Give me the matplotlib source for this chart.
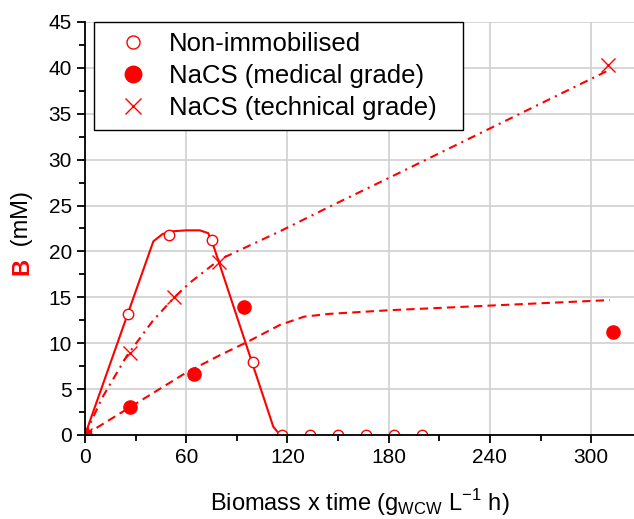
import matplotlib
matplotlib.use("Agg")
import matplotlib.pyplot as plt
from matplotlib.ticker import MultipleLocator

plt.rcParams["font.family"] = ["Liberation Sans", "DejaVu Sans"]

# measured points
free_x = [0, 25.3, 50, 75.1, 99.8, 116.6, 133.4, 150, 166.6, 183, 200]
free_y = [0, 13.2, 21.8, 21.3, 8.0, 0, 0, 0, 0, 0, 0]
med_x = [0, 26.7, 64.4, 94.4, 312.8]
med_y = [0, 3.0, 6.7, 14.0, 11.2]
tech_x = [0, 26.7, 52.9, 79.6, 309.8]
tech_y = [0, 8.9, 15.0, 18.8, 40.3]

# model curves
fit_free_x = [0, 40.5, 46, 52, 60, 68, 73, 76, 111.6, 115.6, 120]
fit_free_y = [0, 21.1, 21.9, 22.2, 22.3, 22.3, 22.0, 20.7, 0.9, 0, 0]
fit_med_x = [0, 30, 60, 80, 95.8, 115.6, 130, 145, 180.8, 240, 311]
fit_med_y = [0, 3.4, 6.8, 8.7, 10.1, 12.0, 12.9, 13.2, 13.6, 14.1, 14.7]
fit_tech_x = [0, 10, 24.7, 40, 52.9, 62.2, 79.6, 115.6, 145.2, 180, 240, 311]
fit_tech_y = [0, 4.0, 8.6, 12.4, 15.0, 16.6, 19.1, 22.2, 24.9, 28.0, 33.4, 39.8]

red = "#ff0000"

fig = plt.figure(figsize=(6.34, 5.19), dpi=100)
ax = fig.add_axes([85 / 634, 84 / 519, 549 / 634, 413 / 519])

ax.plot(fit_free_x, fit_free_y, color=red, lw=1.5)
l2, = ax.plot(fit_med_x, fit_med_y, color=red, lw=1.5)
l2.set_dashes((4, 2.5))
l3, = ax.plot(fit_tech_x, fit_tech_y, color=red, lw=1.5)
l3.set_dashes((4, 2.5, 1, 2.5))

ax.plot(free_x, free_y, "o", ms=7.5, mfc="white", mec=red, mew=1.0,
        ls="none", label="Non-immobilised")
ax.plot(med_x, med_y, "o", ms=9.5, color=red, ls="none",
        label="NaCS (medical grade)")
ax.plot(tech_x, tech_y, "x", ms=9.5, color=red, mew=1.0, ls="none",
        label="NaCS (technical grade)")

ax.set_xlim(0, 325.4)
ax.set_ylim(0, 45)
ax.xaxis.set_major_locator(MultipleLocator(60))
ax.xaxis.set_minor_locator(MultipleLocator(30))
ax.yaxis.set_major_locator(MultipleLocator(5))
ax.yaxis.set_minor_locator(MultipleLocator(2.5))
ax.grid(True, which="major", color="#d0d0d0", lw=1.2)
ax.set_axisbelow(True)

for s in ["top", "right"]:
    ax.spines[s].set_visible(False)
ax.spines["left"].set_linewidth(1.3)
ax.spines["bottom"].set_linewidth(1.3)
ax.tick_params(which="major", direction="out", length=6, width=1.3, labelsize=15)
ax.tick_params(which="minor", direction="out", length=4, width=1.3)

ax.set_xlabel(r"Biomass x time (g$_{\mathregular{WCW}}$ L$^{\mathregular{-1}}$ h)",
              fontsize=17, labelpad=14)

# y label: red bold B + black (mM)
ax.text(-0.115, 0.43, "B", transform=ax.transAxes, rotation=90,
        rotation_mode="anchor", ha="right", va="center", fontsize=17,
        fontweight="bold", color=red)
ax.text(-0.115, 0.44, " (mM)", transform=ax.transAxes, rotation=90,
        rotation_mode="anchor", ha="left", va="center", fontsize=17)

leg = ax.legend(loc="upper left", bbox_to_anchor=(0.0164, 1.0, 0.672, 0),
                mode="expand", borderaxespad=0,
                fontsize=18.5, frameon=True, fancybox=False, edgecolor="black",
                framealpha=1, labelspacing=0.31, handletextpad=0.3,
                borderpad=0.4, handlelength=2.2, markerscale=1.25)
leg.get_frame().set_linewidth(1.0)

fig.savefig("out.png", dpi=100)
